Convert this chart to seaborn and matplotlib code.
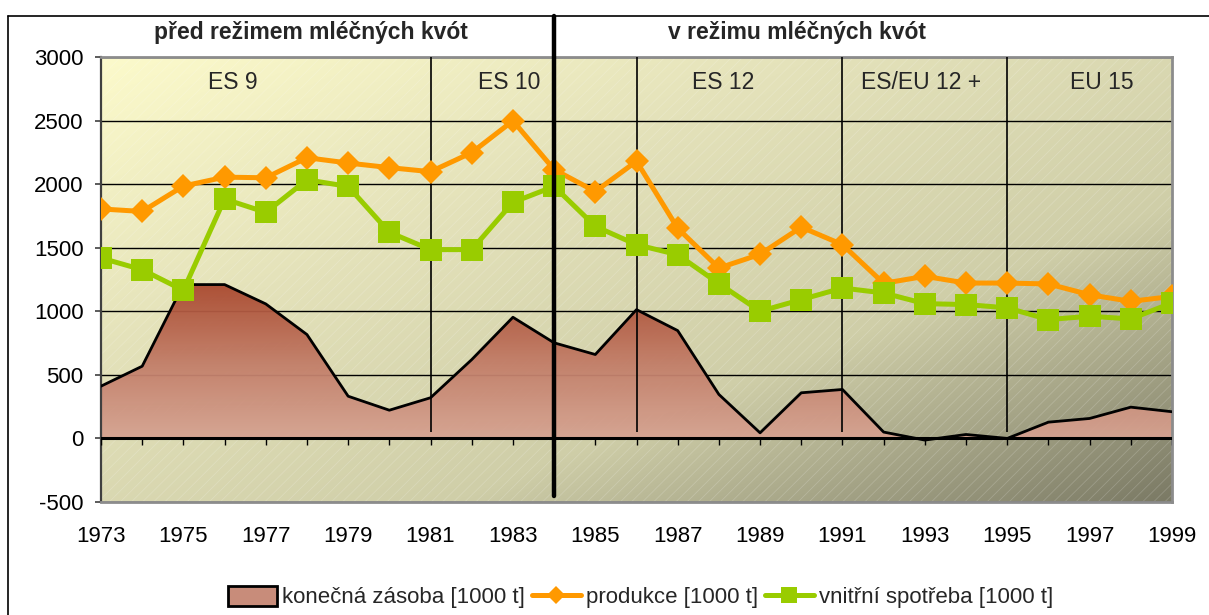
import numpy as np
import pandas as pd
import seaborn as sns
import matplotlib.pyplot as plt
from matplotlib.colors import LinearSegmentedColormap
from matplotlib.patches import Patch, Rectangle
from matplotlib.lines import Line2D

# data [1000 t]
roky = list(range(1973, 2000))
zasoba = [411, 568, 1210, 1210, 1058, 817, 332, 222, 320, 620, 953, 752, 660,
          1013, 848, 346, 44, 359, 385, 50, -13, 31, 0, 128, 157, 246, 210]
produkce = [1805, 1785, 1985, 2055, 2050, 2208, 2166, 2130, 2098, 2248, 2498, 2115, 1942,
            2180, 1653, 1340, 1448, 1662, 1524, 1220, 1275, 1222, 1222, 1215, 1130, 1078, 1117]
spotreba = [1419, 1327, 1165, 1883, 1778, 2034, 1982, 1621, 1485, 1485, 1857, 1982, 1668,
            1524, 1445, 1218, 1000, 1092, 1183, 1144, 1060, 1053, 1027, 935, 961, 940, 1066]

hranice = [1981, 1986, 1991, 1995]
kvoty_rok = 1984
obdobi = ["ES 9", "ES 10", "ES 12", "ES/EU 12 +", "EU 15"]
obdobi_x = [1976.2, 1982.9, 1988.1, 1992.9, 1997.3]
rezimy = ["před režimem mléčných kvót", "v režimu mléčných kvót"]
rezimy_x = [1978.1, 1989.9]

df = pd.DataFrame({"rok": roky, "zasoba": zasoba, "produkce": produkce, "spotreba": spotreba})

sns.set_theme(style="white")
plt.rcParams['font.family'] = ['Liberation Sans', 'DejaVu Sans']
plt.rcParams['axes.unicode_minus'] = False
plt.rcParams['hatch.linewidth'] = 0.6

fig = plt.figure(figsize=(12.09, 6.15), dpi=100)
ax = fig.add_axes([101 / 1209, 1 - 502 / 615, 1071 / 1209, 445 / 615])

# background gradient + faint diagonal hatch
bg = LinearSegmentedColormap.from_list("bg", ["#FCFACB", "#E4E2BA", "#CFCEA8", "#7B7A65"])
u = np.linspace(0, 1, 300)[None, :]
v = np.linspace(0, 1, 150)[:, None]
ax.imshow((u + v) / 2, cmap=bg, extent=[1973, 1999, -500, 3000], aspect='auto',
          origin='upper', zorder=0, interpolation='bicubic')
ax.add_patch(Rectangle((0, 0), 1, 1, transform=ax.transAxes, facecolor='none',
                       edgecolor=(1, 1, 1, 0.18), hatch='///', linewidth=0, zorder=0.2))

ax.set_yticks(range(-500, 3001, 500))
ax.yaxis.grid(True, color='black', lw=1)
ax.xaxis.grid(False)
ax.set_axisbelow(True)

# area: konečná zásoba with vertical gradient
poly = ax.fill_between(df["rok"], df["zasoba"], 0, color='none', zorder=2)
area_cm = LinearSegmentedColormap.from_list("area", ["#A9472D", "#C27D68", "#D8A796"])
grad = np.linspace(0, 1, 200)[:, None] * np.ones((1, 10))
im = ax.imshow(grad, cmap=area_cm, extent=[1973, 1999, -60, 1230], aspect='auto',
               origin='upper', zorder=2, alpha=0.95)
im.set_clip_path(poly.get_paths()[0], transform=ax.transData)
ax.plot(df["rok"], df["zasoba"], color='black', lw=2, zorder=3)

ax.set_xlim(1973, 1999)
ax.set_ylim(-500, 3000)

# zero line with yearly ticks
ax.axhline(0, color='black', lw=2.2, zorder=3)
ax.vlines(roky, -55, 0, color='black', lw=1, zorder=3)

# period boundaries
ax.vlines(hranice, 50, 3000, color='black', lw=1.2, zorder=3.5)
ax.plot([kvoty_rok, kvoty_rok], [-455, 3323], color='black', lw=3.2, zorder=6, clip_on=False)

sns.lineplot(data=df, x="rok", y="produkce", ax=ax, color='#FF9900', lw=3.6,
             marker='D', markersize=12, markeredgewidth=0, markeredgecolor='#FF9900', zorder=5)
sns.lineplot(data=df, x="rok", y="spotreba", ax=ax, color='#99CC00', lw=3.6,
             marker='s', markersize=16, markeredgewidth=0, markeredgecolor='#99CC00', zorder=5.5)

for t, x in zip(obdobi, obdobi_x):
    ax.text(x, 2797, t, ha='center', va='center', fontsize=16.5, zorder=7)
for t, x in zip(rezimy, rezimy_x):
    ax.text(x, 3189, t, ha='center', va='center', fontsize=16.5, fontweight='bold', clip_on=False)

ax.set_xlabel("")
ax.set_ylabel("")
ax.set_xticks(range(1973, 2000, 2))
ax.tick_params(axis='x', length=0, pad=17, labelsize=16, colors='black')
ax.tick_params(axis='y', left=True, length=4.5, width=1.2, color='#404040', pad=8,
               labelsize=16, labelcolor='black')

for s in ['top', 'right', 'bottom']:
    ax.spines[s].set_color('#8C8C8C')
    ax.spines[s].set_linewidth(2)
ax.spines['left'].set_color('#404040')
ax.spines['left'].set_linewidth(1.6)

# outer chart frame (cut at right and bottom)
fig.add_artist(Line2D([8 / 1209, 1], [1 - 16 / 615] * 2, color='black', lw=1.2))
fig.add_artist(Line2D([8 / 1209] * 2, [0, 1 - 16 / 615], color='black', lw=1.2))

handles = [
    Patch(facecolor='#C88C7A', edgecolor='black', lw=2),
    Line2D([], [], color='#FF9900', lw=3.6, marker='D', markersize=9, markeredgewidth=0),
    Line2D([], [], color='#99CC00', lw=3.6, marker='s', markersize=11, markeredgewidth=0),
]
labels = ["konečná zásoba [1000 t]", "produkce [1000 t]", "vnitřní spotřeba [1000 t]"]
fig.legend(handles, labels, loc='center', bbox_to_anchor=(0.53, 0.029), ncol=3,
           frameon=False, fontsize=16, handlelength=2.2, handletextpad=0.25,
           columnspacing=0.3, handleheight=1.0)

fig.savefig("out.png", dpi=100)
